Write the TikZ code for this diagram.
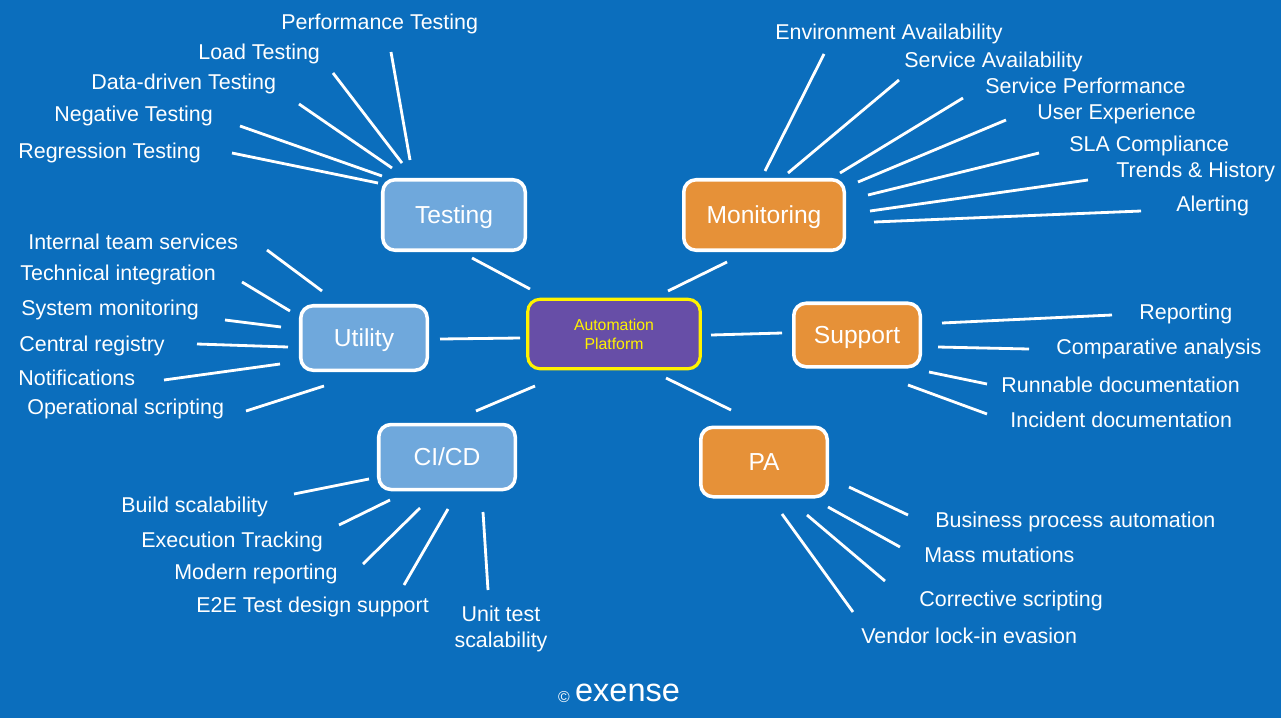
\documentclass[tikz,border=0pt]{standalone}
\usepackage{fontspec}
\setmainfont{Liberation Sans}
\usepackage{xcolor}
\usetikzlibrary{positioning}
\definecolor{bgblue}{RGB}{11,110,189}
\definecolor{boxblue}{RGB}{111,168,220}
\definecolor{boxorange}{RGB}{230,145,56}
\definecolor{boxpurple}{RGB}{103,78,167}

\begin{document}
\begin{tikzpicture}[x=0.2mm,y=-0.2mm,
    topic/.style={draw=white,line width=2pt,rounded corners=7pt,text=white,inner sep=0pt,font=\fontsize{14}{16}\selectfont,text height=10pt,text depth=0pt},
    item/.style={anchor=west,inner sep=0pt,text=white,font=\fontsize{12.2}{14}\selectfont,text height=8.7pt,text depth=0pt},
    spoke/.style={white,line width=1.6pt}]
    \fill[bgblue] (0,0) rectangle (1281,718);
    \useasboundingbox (0,0) rectangle (1281,718);
    % main boxes
    \node[topic,fill=boxpurple,draw=yellow,line width=1.8pt,text=yellow,align=center,font=\fontsize{9}{10.8}\selectfont,text height=,text depth=,minimum width=34.5mm,minimum height=13.9mm] (core) at (614,334) {Automation\\Platform};
    \node[topic,fill=boxblue,minimum width=28.5mm,minimum height=14.1mm] (testing) at (454,215) {Testing};
    \node[topic,fill=boxorange,minimum width=32.1mm,minimum height=14.1mm] (monitoring) at (764,215) {Monitoring};
    \node[topic,fill=boxblue,minimum width=25.3mm,minimum height=12.9mm] (utility) at (364,338) {Utility};
    \node[topic,fill=boxorange,minimum width=25.3mm,minimum height=12.7mm] (support) at (857,335) {Support};
    \node[topic,fill=boxblue,minimum width=27.3mm,minimum height=13mm] (cicd) at (447,457) {CI/CD};
    \node[topic,fill=boxorange,minimum width=25.3mm,minimum height=13.9mm] (pa) at (764,462) {PA};
    % testing
    \node[item] (perf) at (281,22) {Performance Testing};
    \node[item] (load) at (198,52) {Load Testing};
    \node[item] (datadriven) at (91,82) {Data-driven Testing};
    \node[item] (negative) at (54,114) {Negative Testing};
    \node[item] (regression) at (18,151) {Regression Testing};
    % monitoring
    \node[item] (envav) at (775,32) {Environment Availability};
    \node[item] (servav) at (904,60) {Service Availability};
    \node[item] (servperf) at (985,86) {Service Performance};
    \node[item] (userexp) at (1037,112) {User Experience};
    \node[item] (sla) at (1069,144) {SLA Compliance};
    \node[item] (trends) at (1116,170) {Trends \& History};
    \node[item] (alerting) at (1176,204) {Alerting};
    % utility
    \node[item] (internal) at (28,242) {Internal team services};
    \node[item] (techint) at (20,273) {Technical integration};
    \node[item] (sysmon) at (21,308) {System monitoring};
    \node[item] (registry) at (19,344) {Central registry};
    \node[item] (notif) at (18,378) {Notifications};
    \node[item] (opscript) at (27,407) {Operational scripting};
    % support
    \node[item] (reporting) at (1139,312) {Reporting};
    \node[item] (compare) at (1056,347) {Comparative analysis};
    \node[item] (runnable) at (1001,385) {Runnable documentation};
    \node[item] (incident) at (1010,420) {Incident documentation};
    % ci/cd
    \node[item] (build) at (121,505) {Build scalability};
    \node[item] (exec) at (141,540) {Execution Tracking};
    \node[item] (modern) at (174,572) {Modern reporting};
    \node[item] (etoe) at (196,605) {E2E Test design support};
    \node[text=white,align=center,inner sep=0pt,font=\fontsize{12.2}{14.7}\selectfont] (unit) at (501,629) {Unit test\\scalability};
    % pa
    \node[item] (business) at (935,520) {Business process automation};
    \node[item] (mass) at (924,555) {Mass mutations};
    \node[item] (corrective) at (919,599) {Corrective scripting};
    \node[item] (vendor) at (861,636) {Vendor lock-in evasion};
    % spokes
    \foreach \n/\ax/\ay/\bx/\by in {c-t/530/289/472/258, c-m/668/291/727/262, c-u/520/338/440/339, c-s/711/335/782/333,
        c-c/535/386/476/411, c-p/666/378/731/410,
        t-p/410/160/391/52, t-l/402/163/333/73, t-d/392/168/299/104, t-n/382/176/240/126, t-r/378/183/232/153,
        m-e/765/171/824/54, m-a/788/173/899/80, m-p/840/173/963/98, m-u/858/182/1006/120, m-s/868/195/1039/153,
        m-t/870/211/1088/180, m-l/874/222/1141/211,
        u-i/322/291/267/250, u-t/290/311/242/282, u-s/281/327/225/320, u-c/288/347/197/344, u-n/280/364/164/380, u-o/324/386/246/411,
        s-r/942/323/1112/315, s-c/938/347/1029/349, s-u/929/372/987/384, s-i/908/385/987/414,
        d-b/369/479/294/494, d-x/390/500/339/525, d-m/420/508/363/564, d-e/448/509/404/585, d-u/483/512/488/590,
        p-b/849/487/908/515, p-m/828/507/900/547, p-c/807/515/885/581, p-v/782/514/853/612}{
        \coordinate (\n-a) at (\ax,\ay);
        \coordinate (\n-b) at (\bx,\by);
        \draw[spoke] (\n-a) -- (\n-b);
    }
    \node[text=white,font=\fontsize{18.5}{20}\selectfont] (brand) at (619,693) {{\fontsize{9}{10}\selectfont\raisebox{-0.5pt}{©}}\,exense};
\end{tikzpicture}
\end{document}
